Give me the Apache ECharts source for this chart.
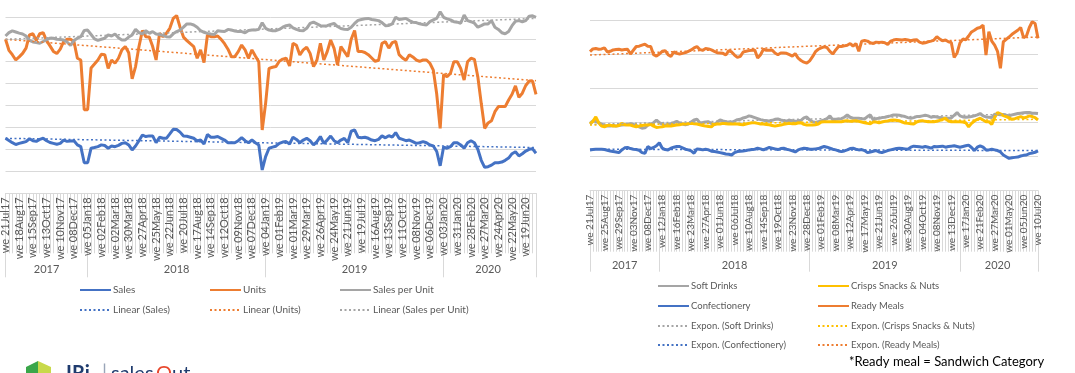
<!DOCTYPE html>
<html><head><meta charset="utf-8">
<script src="https://cdn.jsdelivr.net/npm/echarts/dist/echarts.min.js"></script>
<style>html,body{margin:0;padding:0;background:#fff}#c{width:1075px;height:373px}</style>
</head><body><div id="c"></div><script>
// ---------- DATA ----------
const weeks = [
'21Jul17','28Jul17','04Aug17','11Aug17','18Aug17','25Aug17','01Sep17','08Sep17','15Sep17','22Sep17','29Sep17','06Oct17','13Oct17','20Oct17','27Oct17','03Nov17','10Nov17','17Nov17','24Nov17','01Dec17','08Dec17','15Dec17','22Dec17','29Dec17',
'05Jan18','12Jan18','19Jan18','26Jan18','02Feb18','09Feb18','16Feb18','23Feb18','02Mar18','09Mar18','16Mar18','23Mar18','30Mar18','06Apr18','13Apr18','20Apr18','27Apr18','04May18','11May18','18May18','25May18','01Jun18','08Jun18','15Jun18','22Jun18','29Jun18','06Jul18','13Jul18','20Jul18','27Jul18','03Aug18','10Aug18','17Aug18','24Aug18','31Aug18','07Sep18','14Sep18','21Sep18','28Sep18','05Oct18','12Oct18','19Oct18','26Oct18','02Nov18','09Nov18','16Nov18','23Nov18','30Nov18','07Dec18','14Dec18','21Dec18','28Dec18',
'04Jan19','11Jan19','18Jan19','25Jan19','01Feb19','08Feb19','15Feb19','22Feb19','01Mar19','08Mar19','15Mar19','22Mar19','29Mar19','05Apr19','12Apr19','19Apr19','26Apr19','03May19','10May19','17May19','24May19','31May19','07Jun19','14Jun19','21Jun19','28Jun19','05Jul19','12Jul19','19Jul19','26Jul19','02Aug19','09Aug19','16Aug19','23Aug19','30Aug19','06Sep19','13Sep19','20Sep19','27Sep19','04Oct19','11Oct19','18Oct19','25Oct19','01Nov19','08Nov19','15Nov19','22Nov19','29Nov19','06Dec19','13Dec19','20Dec19','27Dec19',
'03Jan20','10Jan20','17Jan20','24Jan20','31Jan20','07Feb20','14Feb20','21Feb20','28Feb20','06Mar20','13Mar20','20Mar20','27Mar20','03Apr20','10Apr20','17Apr20','24Apr20','01May20','08May20','15May20','22May20','29May20','05Jun20','12Jun20','19Jun20','26Jun20','03Jul20','10Jul20'];

// Left chart (index scale, no axis values shown)
const sales = [2.5,2.4,2.3,2.22,2.27,2.31,2.35,2.48,2.39,2.36,2.45,2.5,2.39,2.31,2.27,2.23,2.27,2.42,2.36,2.38,2.39,2.2,2.12,1.39,1.39,2.05,2.08,2.12,2.2,2.17,2.05,2.15,2.12,2.18,2.27,2.3,2.2,1.97,2.15,2.39,2.65,2.58,2.61,2.61,2.3,2.55,2.5,2.5,2.7,2.91,2.9,2.78,2.6,2.59,2.55,2.5,2.38,2.42,2.24,2.67,2.55,2.55,2.58,2.5,2.42,2.3,2.3,2.3,2.39,2.53,2.39,2.3,2.42,2.3,2.2,1.06,1.67,2.05,2.1,2.14,2.27,2.33,2.35,2.24,2.55,2.45,2.3,2.42,2.5,2.39,2.2,2.35,2.58,2.27,2.42,2.6,2.39,2.3,2.42,2.5,2.3,2.82,2.88,2.55,2.53,2.55,2.5,2.42,2.39,2.45,2.61,2.52,2.62,2.55,2.76,2.5,2.45,2.39,2.42,2.35,2.27,2.3,2.35,2.3,2.2,2.15,1.9,1.25,2.1,2.05,2.12,2.3,2.3,2.2,2.05,2.3,2.39,2.3,2.0,1.5,1.18,1.21,1.28,1.39,1.39,1.42,1.5,1.6,1.8,1.89,1.7,1.8,1.92,2.0,2.02,1.82];
const units = [7.0,6.5,6.3,6.06,6.2,6.36,6.6,7.2,7.25,6.95,7.25,7.3,6.94,6.7,6.45,6.35,6.55,6.9,7.0,7.0,6.9,6.14,6.06,3.8,3.8,5.7,5.88,6.06,6.32,6.3,5.68,6.06,5.91,6.14,6.52,6.67,6.39,5.2,5.76,6.67,7.4,7.12,7.1,6.67,6.06,7.27,7.12,7.27,7.5,7.95,8.08,7.55,7.1,6.94,6.8,6.67,6.14,6.52,5.94,7.2,7.12,7.12,7.15,7.0,6.8,6.55,6.21,6.21,6.44,6.74,6.52,6.14,6.52,6.24,5.98,2.88,4.09,5.68,5.73,5.76,6.0,6.1,6.14,5.79,6.82,6.73,6.29,6.52,6.64,6.36,5.76,6.06,6.82,6.06,6.44,6.97,6.59,5.83,6.67,6.44,6.21,7.0,7.4,6.45,6.45,6.4,6.3,6.15,6.0,6.05,6.82,6.89,6.6,6.85,6.9,6.3,6.15,6.05,6.3,6.2,6.06,6.0,6.06,6.06,5.91,5.6,4.5,2.95,5.4,5.3,5.45,5.98,5.98,5.68,5.15,5.98,6.14,6.09,5.3,4.09,2.95,3.2,3.3,3.71,3.94,3.94,3.94,4.24,4.5,4.88,4.36,4.55,4.9,5.1,5.1,4.5];
const salesPerUnit = [7.15,7.3,7.38,7.33,7.28,7.24,7.15,6.95,6.88,6.85,6.82,6.9,6.98,7.05,7.05,7.0,6.99,6.97,6.88,6.72,6.95,7.05,7.12,7.4,7.42,7.22,7.02,6.95,7.0,7.05,7.2,7.15,7.24,7.07,6.97,6.97,7.1,7.2,7.45,7.3,7.25,7.39,7.28,7.35,7.24,7.22,7.18,7.12,7.1,7.25,7.35,7.42,7.55,7.7,7.7,7.65,7.55,7.39,7.32,7.27,7.24,7.22,7.39,7.37,7.35,7.45,7.42,7.38,7.35,7.35,7.3,7.4,7.42,7.42,7.45,7.75,7.5,7.42,7.39,7.39,7.45,7.55,7.62,7.65,7.52,7.45,7.4,7.39,7.5,7.72,7.78,7.7,7.62,7.61,7.62,7.68,7.72,7.58,7.49,7.46,7.45,7.55,7.72,7.86,7.9,7.93,7.95,7.9,7.88,7.85,7.76,7.62,7.63,7.7,8.0,7.9,7.92,7.95,7.85,7.78,7.76,7.7,7.67,7.65,7.8,7.88,7.95,8.25,8.0,7.93,7.88,7.8,7.78,7.73,8.1,7.85,7.8,7.73,7.55,7.62,7.7,7.7,7.85,7.55,7.45,7.3,7.25,7.35,7.62,7.82,7.85,7.8,7.85,8.05,8.07,8.0];
// linear trend lines: [first week, last week]
const salesTrend = [2.5, 2.08];
const unitsTrend = [7.0, 5.12];
const salesPerUnitTrend = [7.0, 7.95];

// Right chart
const softDrinks = [1.98,2.05,2.04,2.0,1.96,1.92,1.9,1.9,1.92,1.9,1.92,1.93,1.94,1.95,1.97,1.95,1.92,1.88,1.84,1.85,1.93,1.95,2.0,2.08,2.0,1.96,1.93,1.95,1.97,2.0,2.04,1.99,1.96,1.94,1.96,2.02,2.08,2.1,2.0,2.0,2.02,2.03,1.98,1.94,2.02,2.08,2.05,2.03,2.02,2.01,2.05,2.09,2.1,2.14,2.16,2.2,2.18,2.15,2.12,2.09,2.07,2.06,2.05,2.07,2.1,2.11,2.08,2.06,2.05,2.07,2.06,2.04,2.05,2.07,2.14,2.17,2.08,2.03,2.01,2.03,2.05,2.08,2.12,2.2,2.08,2.1,2.11,2.12,2.16,2.23,2.16,2.13,2.13,2.13,2.12,2.11,2.18,2.23,2.08,2.12,2.13,2.15,2.16,2.18,2.2,2.23,2.23,2.22,2.2,2.18,2.15,2.13,2.15,2.18,2.18,2.2,2.22,2.2,2.16,2.18,2.17,2.15,2.14,2.13,2.13,2.14,2.22,2.3,2.2,2.17,2.16,2.17,2.18,2.2,2.23,2.27,2.2,2.17,2.16,2.15,2.25,2.25,2.23,2.24,2.22,2.2,2.23,2.25,2.27,2.28,2.29,2.3,2.3,2.28,2.28,2.27];
const crispsSnacksNuts = [1.96,2.04,2.17,2.0,1.9,1.88,1.92,1.93,1.9,1.9,1.92,1.98,1.94,1.93,1.93,1.9,1.88,1.9,1.92,1.93,1.93,1.95,1.9,1.86,1.87,1.88,1.9,1.9,1.9,1.92,1.93,1.94,1.96,1.96,1.97,1.98,1.97,1.96,1.94,1.92,1.9,1.89,1.88,1.95,1.96,1.96,1.98,1.97,1.96,1.96,1.96,1.96,1.95,1.94,1.96,1.98,2.0,2.0,1.98,1.96,1.96,1.95,1.94,1.92,1.9,1.92,1.93,1.95,1.97,1.98,1.97,1.97,1.99,2.0,1.95,1.93,1.93,1.93,1.94,1.96,2.02,2.03,2.03,2.03,2.03,2.03,2.03,2.03,2.05,2.06,2.04,2.05,2.06,2.04,2.02,2.0,1.98,1.97,2.02,2.02,2.0,2.02,2.04,2.05,2.07,2.08,2.07,2.06,2.02,1.99,1.98,1.97,1.96,2.02,2.05,2.06,2.04,2.03,2.03,2.03,2.04,2.07,2.1,2.13,2.05,2.03,2.03,2.03,2.03,2.02,2.0,1.88,1.98,2.05,2.1,2.13,2.08,2.03,2.03,1.95,2.15,2.3,2.26,2.21,2.18,2.14,2.1,2.12,2.15,2.18,2.14,2.16,2.2,2.18,2.15,2.08];
const confectionery = [1.2,1.21,1.22,1.22,1.22,1.21,1.19,1.17,1.15,1.14,1.12,1.2,1.26,1.27,1.24,1.22,1.21,1.19,1.12,1.1,1.3,1.24,1.27,1.32,1.41,1.25,1.21,1.2,1.25,1.28,1.3,1.3,1.26,1.22,1.2,1.17,1.1,1.23,1.22,1.2,1.22,1.2,1.16,1.15,1.14,1.12,1.1,1.08,1.07,1.05,1.12,1.15,1.16,1.17,1.18,1.2,1.21,1.22,1.25,1.23,1.2,1.24,1.27,1.25,1.23,1.21,1.24,1.25,1.22,1.2,1.17,1.14,1.2,1.23,1.25,1.24,1.22,1.22,1.23,1.24,1.27,1.3,1.28,1.25,1.22,1.2,1.17,1.15,1.17,1.2,1.24,1.25,1.22,1.2,1.21,1.18,1.12,1.14,1.16,1.18,1.14,1.12,1.15,1.18,1.2,1.22,1.24,1.25,1.24,1.23,1.22,1.28,1.31,1.3,1.29,1.28,1.3,1.28,1.25,1.3,1.29,1.3,1.31,1.28,1.3,1.31,1.32,1.3,1.28,1.3,1.32,1.34,1.27,1.18,1.28,1.32,1.28,1.2,1.2,1.22,1.2,1.18,1.14,1.05,1.0,0.95,0.97,0.98,0.99,1.02,1.04,1.05,1.09,1.11,1.13,1.17];
const readyMeals = [4.09,4.17,4.18,4.16,4.17,4.2,4.08,4.1,4.14,4.15,4.16,4.14,4.15,4.16,4.02,4.13,4.24,4.25,4.28,4.31,4.25,4.24,4.0,3.96,4.02,4.1,4.12,4.0,3.95,4.08,4.04,4.02,4.04,4.06,4.1,4.14,4.2,4.24,4.15,4.13,4.18,4.17,4.14,4.1,4.06,4.05,4.04,3.99,4.12,4.08,3.99,3.92,3.95,4.08,4.1,4.12,4.13,4.14,3.9,4.0,4.16,4.13,4.13,4.14,4.05,4.0,4.05,4.05,4.04,4.0,3.96,4.03,3.9,3.83,3.78,3.75,3.82,3.94,4.09,4.16,4.2,4.23,4.21,4.1,4.02,4.14,4.24,4.24,4.26,4.28,4.33,4.25,4.33,4.1,4.4,4.42,4.4,4.35,4.33,4.37,4.36,4.37,4.35,4.3,4.4,4.43,4.45,4.44,4.43,4.45,4.43,4.41,4.43,4.44,4.37,4.34,4.35,4.38,4.4,4.43,4.53,4.46,4.41,4.43,4.38,4.36,3.92,4.05,4.35,4.46,4.44,4.55,4.67,4.72,4.78,4.8,4.87,3.99,4.68,4.4,4.28,4.1,3.6,4.38,4.45,4.52,4.6,4.66,4.72,4.8,4.5,4.55,4.8,4.97,4.92,4.48];
// exponential trend lines: [first week, last week]
const softDrinksTrend = [1.95, 2.27];
const crispsTrend = [1.93, 2.1];
const confectioneryTrend = [1.22, 1.18];
const readyMealsTrend = [3.99, 4.52];

const footnote = '*Ready meal = Sandwich Category';

// ---------- BUILD ----------
const FONT = "Lato, 'Liberation Sans', sans-serif";
const GRIDC = '#d9d9d9';
const TXT = '#595959';
const COL = {blue:'#4472C4', orange:'#ED7D31', gray:'#A5A5A5', yellow:'#FFC000'};
const cats = weeks.map(w => 'we ' + w);
const yearCats = weeks.map(w => '20' + w.slice(-2));
const bounds = new Set([0, weeks.length - 1]);
const mids = new Set();
{
  let start = 0;
  for (let i = 1; i <= weeks.length; i++) {
    if (i === weeks.length || yearCats[i] !== yearCats[i-1]) {
      if (i < weeks.length) bounds.add(i);
      mids.add(Math.floor((start + Math.min(i, weeks.length - 1)) / 2));
      start = i;
    }
  }
}
function trend(ends){ const a = weeks.map(() => null); a[0] = ends[0]; a[a.length-1] = ends[1]; return a; }

function xAxes(g, labelInterval, fs, tickLen, yearLen, yearMargin){
  return [
    {gridIndex:g, type:'category', data:cats, boundaryGap:false,
     axisLine:{lineStyle:{color:GRIDC}},
     axisTick:{show:true, interval:0, length:tickLen, lineStyle:{color:GRIDC}},
     axisLabel:{interval:labelInterval, rotate:90, fontSize:fs, color:TXT, margin:4, fontFamily:FONT}},
    {gridIndex:g, type:'category', data:yearCats, boundaryGap:false, position:'bottom',
     axisLine:{show:false},
     axisTick:{show:true, interval:(i) => bounds.has(i), length:yearLen, lineStyle:{color:GRIDC}},
     axisLabel:{interval:(i) => mids.has(i), margin:yearMargin, fontSize:11, color:TXT, fontFamily:FONT}}
  ];
}
function yAxis(g, max){
  return {gridIndex:g, type:'value', min:0, max:max, interval:1,
    axisLabel:{show:false}, axisLine:{show:false}, axisTick:{show:false},
    splitLine:{lineStyle:{color:GRIDC}}};
}
function line(name, data, color, xi, yi){
  return {name, type:'line', data, xAxisIndex:xi, yAxisIndex:yi, symbol:'none', clip:false,
    lineStyle:{color, width:3}, itemStyle:{color}, z:2, animation:false};
}
function tline(name, ends, color, xi, yi){
  return {name, type:'line', data:trend(ends), connectNulls:true, xAxisIndex:xi, yAxisIndex:yi, symbol:'none',
    lineStyle:{color, width:1.5, type:[2,2.5]}, itemStyle:{color}, z:5, animation:false};
}
function leg(name, left, top, fs){
  return {data:[name], left, top, padding:0, itemWidth:31, itemHeight:12,
    itemStyle:{opacity:0, color:'rgba(0,0,0,0)', borderWidth:0},
    textStyle:{fontSize:fs, color:TXT, fontFamily:FONT, padding:[0,0,0,-3]}};
}

const option = {
  animation:false,
  grid:[
    {left:4, top:17.3, width:532, height:176},
    {left:590, top:20.7, width:448, height:170}
  ],
  xAxis:[...xAxes(0, 3, 11, 60, 84, 71), ...xAxes(1, 4, 10, 61, 81, 69)],
  yAxis:[yAxis(0, 8), yAxis(1, 5)],
  series:[
    line('Sales', sales, COL.blue, 0, 0),
    line('Units', units, COL.orange, 0, 0),
    line('Sales per Unit', salesPerUnit, COL.gray, 0, 0),
    tline('Linear (Sales)', salesTrend, COL.blue, 0, 0),
    tline('Linear (Units)', unitsTrend, COL.orange, 0, 0),
    tline('Linear (Sales per Unit)', salesPerUnitTrend, COL.gray, 0, 0),
    line('Soft Drinks', softDrinks, COL.gray, 2, 1),
    line('Crisps Snacks & Nuts', crispsSnacksNuts, COL.yellow, 2, 1),
    line('Confectionery', confectionery, COL.blue, 2, 1),
    line('Ready Meals', readyMeals, COL.orange, 2, 1),
    tline('Expon. (Soft Drinks)', softDrinksTrend, COL.gray, 2, 1),
    tline('Expon. (Crisps Snacks & Nuts)', crispsTrend, COL.yellow, 2, 1),
    tline('Expon. (Confectionery)', confectioneryTrend, COL.blue, 2, 1),
    tline('Expon. (Ready Meals)', readyMealsTrend, COL.orange, 2, 1)
  ],
  legend:[
    leg('Sales', 79, 285, 10), leg('Units', 209, 285, 10), leg('Sales per Unit', 339, 285, 10),
    leg('Linear (Sales)', 79, 305, 10), leg('Linear (Units)', 209, 305, 10), leg('Linear (Sales per Unit)', 339, 305, 10),
    leg('Soft Drinks', 657, 281, 9.5), leg('Crisps Snacks & Nuts', 817, 281, 9.5),
    leg('Confectionery', 657, 301, 9.5), leg('Ready Meals', 817, 301, 9.5),
    leg('Expon. (Soft Drinks)', 657, 321, 9.5), leg('Expon. (Crisps Snacks & Nuts)', 817, 321, 9.5),
    leg('Expon. (Confectionery)', 657, 340, 9.5), leg('Expon. (Ready Meals)', 817, 340, 9.5)
  ],
  graphic:[
    {type:'text', left:849, top:355, style:{text:footnote, fontSize:13, fill:'#000', fontFamily:FONT}},
    {type:'polygon', shape:{points:[[26,367],[38,361],[38,373],[26,373]]}, style:{fill:'#3aa64a'}},
    {type:'polygon', shape:{points:[[38,361],[51,367],[51,373],[38,373]]}, style:{fill:'#c8d94a'}},
    {type:'text', left:66, top:364, style:{text:'IRi', fontSize:20, fontWeight:'bold', fill:'#1f3b6e', fontFamily:FONT}},
    {type:'text', left:102, top:363, style:{text:'|', fontSize:20, fill:'#9aa5b8', fontFamily:FONT}},
    {type:'text', left:111, top:364, style:{text:'sales', fontSize:20, fill:'#1f3b6e', fontFamily:FONT}},
    {type:'text', left:156, top:364, style:{text:'O', fontSize:20, fill:'#e8472c', fontFamily:FONT}},
    {type:'text', left:172, top:364, style:{text:'ut', fontSize:20, fill:'#1f3b6e', fontFamily:FONT}}
  ]
};
const chart = echarts.init(document.getElementById('c'), null, {renderer:'canvas'});
chart.setOption(option);
</script></body></html>
